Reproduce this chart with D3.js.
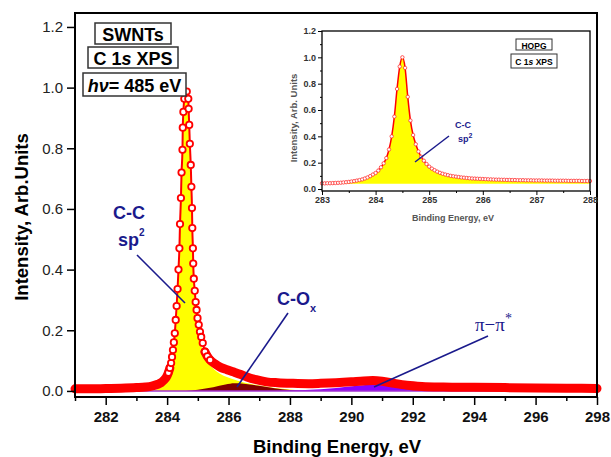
<!DOCTYPE html>
<html>
<head>
<meta charset="utf-8">
<script src="https://cdn.jsdelivr.net/npm/d3@7"></script>
<style>
body { margin: 0; background: #fff; }
text { font-family: Arial, "Liberation Sans", sans-serif; }
</style>
</head>
<body>
<script>
// ---- main spectrum (SWNTs, C 1s), measured points
var measE = [281.0, 281.5, 282.0, 282.5, 283.0, 283.3, 283.5, 283.7, 283.8, 283.9, 283.98,
             284.04, 284.09, 284.13, 284.16, 284.19, 284.22, 284.25, 284.28, 284.31, 284.34,
             284.37, 284.40, 284.42, 284.45, 284.47, 284.50, 284.51, 284.53, 284.56, 284.64,
             284.69, 284.70, 284.72, 284.74, 284.77, 284.79, 284.81, 284.82, 284.84, 284.85,
             284.87, 284.90, 284.93, 284.96, 284.99, 285.03, 285.07, 285.11, 285.16, 285.23,
             285.31, 285.40, 285.55, 285.72, 285.95, 286.15, 286.4, 286.6, 286.9, 287.24,
             287.6, 288.1, 288.6, 289.0, 289.5, 290.0, 290.4, 290.7, 291.0, 291.4,
             291.8, 292.3, 293.0, 294.0, 295.0, 296.0, 297.0, 298.0];
var measI = [0.007, 0.007, 0.008, 0.009, 0.011, 0.013, 0.016, 0.022, 0.027, 0.036, 0.046,
             0.060, 0.076, 0.092, 0.112, 0.135, 0.160, 0.190, 0.234, 0.280, 0.336,
             0.400, 0.470, 0.550, 0.636, 0.720, 0.795, 0.868, 0.920, 0.963, 0.987,
             0.963, 0.930, 0.877, 0.815, 0.745, 0.673, 0.603, 0.537, 0.470, 0.420,
             0.370, 0.330, 0.293, 0.267, 0.240, 0.218, 0.195, 0.178, 0.158, 0.129,
             0.114, 0.102, 0.090, 0.079, 0.070, 0.063, 0.054, 0.046, 0.037, 0.030,
             0.027, 0.025, 0.024, 0.025, 0.027, 0.030, 0.033, 0.034, 0.032, 0.025,
             0.019, 0.015, 0.013, 0.012, 0.011, 0.010, 0.009, 0.008];

// fitted components
var ccE = [283.5, 283.8, 283.95, 284.05, 284.13, 284.19, 284.25, 284.3, 284.35, 284.4, 284.44,
           284.48, 284.52, 284.56, 284.62, 284.68, 284.72, 284.76, 284.8, 284.84, 284.88,
           284.93, 284.99, 285.06, 285.15, 285.3, 285.5, 285.75, 286.1, 286.5, 287.0,
           287.5, 288.0, 288.5];
var ccI = [0.0, 0.012, 0.028, 0.045, 0.075, 0.115, 0.17, 0.25, 0.33, 0.45, 0.6,
           0.78, 0.9, 0.955, 0.975, 0.95, 0.86, 0.76, 0.63, 0.46, 0.36,
           0.28, 0.22, 0.175, 0.135, 0.1, 0.074, 0.055, 0.04, 0.028, 0.018,
           0.01, 0.005, 0.0];
var coxE = [284.6, 285.0, 285.5, 285.9, 286.2, 286.5, 287.0, 287.5, 288.0, 288.5];
var coxI = [0, 0.004, 0.012, 0.021, 0.025, 0.024, 0.017, 0.009, 0.003, 0];
var piE = [287.5, 288.5, 289.5, 290.2, 290.7, 291.2, 291.8, 292.5, 293.5, 295.0];
var piI = [0, 0.003, 0.010, 0.017, 0.020, 0.017, 0.010, 0.004, 0.001, 0];

var xTicks = [282, 284, 286, 288, 290, 292, 294, 296, 298];
var xMinor = [281, 283, 285, 287, 289, 291, 293, 295, 297];
var yTicks = [0.0, 0.2, 0.4, 0.6, 0.8, 1.0, 1.2];

// ---- inset (HOPG), one value every 0.05 eV from 283 to 288
var insetStart = 283, insetStep = 0.05;
var insetI = [0.043, 0.043, 0.044, 0.044, 0.045, 0.046, 0.047, 0.048, 0.050, 0.052,
              0.054, 0.057, 0.060, 0.064, 0.068, 0.073, 0.080, 0.088, 0.098, 0.110,
              0.122, 0.140, 0.165, 0.195, 0.235, 0.300, 0.400, 0.550, 0.760, 0.930,
              1.000, 0.920, 0.700, 0.520, 0.410, 0.340, 0.285, 0.245, 0.215, 0.190,
              0.170, 0.155, 0.143, 0.132, 0.123, 0.116, 0.110, 0.105, 0.100, 0.097,
              0.094, 0.091, 0.088, 0.086, 0.084, 0.082, 0.080, 0.079, 0.078, 0.077,
              0.076, 0.075, 0.074, 0.073, 0.072, 0.071, 0.071, 0.070, 0.070, 0.069,
              0.069, 0.068, 0.068, 0.067, 0.067, 0.067, 0.066, 0.066, 0.066, 0.065,
              0.065, 0.065, 0.065, 0.064, 0.064, 0.064, 0.064, 0.063, 0.063, 0.063,
              0.063, 0.063, 0.062, 0.062, 0.062, 0.062, 0.062, 0.061, 0.061, 0.061,
              0.061];
var insetBase = 0.04;
var insetXTicks = [283, 284, 285, 286, 287, 288];
var insetXMinor = [283.5, 284.5, 285.5, 286.5, 287.5];
var insetYTicks = [0.0, 0.2, 0.4, 0.6, 0.8, 1.0, 1.2];
var insetYMinor = [0.1, 0.3, 0.5, 0.7, 0.9, 1.1];

var width = 611, height = 457;
var navy = "#1a1a8c";

var svg = d3.select("body").append("svg")
    .attr("width", width)
    .attr("height", height);

var x = d3.scaleLinear().domain([281, 298]).range([75, 597]);
var y = d3.scaleLinear().domain([-0.02, 1.246]).range([397, 13]);

var meas = measE.map(function(e, i) { return {e: e, v: measI[i]}; });
function pts(E, I) { return E.map(function(e, i) { return {e: e, v: I[i]}; }); }

var area = d3.area().curve(d3.curveMonotoneX)
    .x(function(d) { return x(d.e); })
    .y0(y(0))
    .y1(function(d) { return y(d.v); });

// components
svg.append("path").datum(pts(ccE, ccI)).attr("d", area).style("fill", "#ffff00");
svg.append("path").datum(pts(coxE, coxI)).attr("d", area).style("fill", "#800000");
svg.append("path").datum(pts(piE, piI)).attr("d", area).style("fill", "#8a00ff");
svg.append("line")
    .attr("x1", x(281)).attr("x2", x(298))
    .attr("y1", y(0)).attr("y2", y(0))
    .style("stroke", "#a030d0").style("stroke-width", 1.5);

// measured data: thick band where points pile up, open circles on the peak
var line = d3.line().curve(d3.curveMonotoneX)
    .x(function(d) { return x(d.e); })
    .y(function(d) { return y(d.v); });

[meas.filter(function(d) { return d.e <= 284.09; }),
 meas.filter(function(d) { return d.e >= 285.23; })].forEach(function(seg) {
    svg.append("path").datum(seg).attr("d", line)
        .style("fill", "none").style("stroke", "#ff0000")
        .style("stroke-width", 9).style("stroke-linecap", "round");
});

svg.append("path").datum(meas).attr("d", line)
    .style("fill", "none").style("stroke", "#ff0000").style("stroke-width", 2);

svg.selectAll(".pt")
    .data(meas.filter(function(d) { return d.e >= 284.04 && d.e <= 285.4; }))
    .enter().append("circle")
    .attr("class", "pt")
    .attr("cx", function(d) { return x(d.e); })
    .attr("cy", function(d) { return y(d.v); })
    .attr("r", 3.2)
    .style("fill", "#fff").style("stroke", "#ff0000").style("stroke-width", 1.8);

// axes
var gx = svg.append("g").attr("transform", "translate(0,397)")
    .call(d3.axisBottom(x).tickValues(xTicks).tickSize(8).tickPadding(6).tickFormat(d3.format("d")));
svg.append("g").attr("transform", "translate(0,397)")
    .call(d3.axisBottom(x).tickValues(xMinor).tickSize(4).tickFormat(""));
var gy = svg.append("g").attr("transform", "translate(75,0)")
    .call(d3.axisLeft(y).tickValues(yTicks).tickSize(8).tickPadding(4).tickFormat(d3.format(".1f")));
svg.selectAll(".domain").remove();
svg.selectAll(".tick line").style("stroke", "#000").style("stroke-width", 1.5);
gx.selectAll("text").style("font-size", "15px").style("font-weight", "bold").style("fill", "#111");
gy.selectAll("text").style("font-size", "15px").style("fill", "#222");

svg.append("rect")
    .attr("x", 75).attr("y", 13).attr("width", 522).attr("height", 384)
    .style("fill", "none").style("stroke", "#000").style("stroke-width", 2);

svg.append("text").attr("x", 337).attr("y", 446)
    .attr("text-anchor", "middle").attr("dominant-baseline", "central")
    .style("font-size", "18.5px").style("font-weight", "bold")
    .text("Binding Energy, eV");
svg.append("text").attr("transform", "translate(21,217) rotate(-90)")
    .attr("text-anchor", "middle").attr("dominant-baseline", "central")
    .style("font-size", "18.5px").style("font-weight", "bold")
    .text("Intensity, Arb.Units");

// boxed labels
function boxLabel(x0, y0, w, h, size, parts) {
    svg.append("rect").attr("x", x0).attr("y", y0).attr("width", w).attr("height", h)
        .style("fill", "#fff").style("stroke", "#333").style("stroke-width", size > 12 ? 1.5 : 1);
    var t = svg.append("text").attr("x", x0 + w / 2).attr("y", y0 + h / 2 + 1)
        .attr("text-anchor", "middle").attr("dominant-baseline", "central")
        .style("font-size", size + "px").style("font-weight", "bold");
    parts.forEach(function(p) {
        t.append("tspan").style("font-style", p[1] ? "italic" : "normal").text(p[0]);
    });
}
boxLabel(95, 23, 76, 21, 18, [["SWNTs"]]);
boxLabel(88, 47, 90, 21, 18, [["C 1"], ["s", 1], [" XPS"]]);
boxLabel(83, 73, 103, 23, 18, [["h\u03bd", 1], ["= 485 eV"]]);

// annotations
function pointer(x1, y1, x2, y2, w) {
    svg.append("line").attr("x1", x1).attr("y1", y1).attr("x2", x2).attr("y2", y2)
        .style("stroke", navy).style("stroke-width", w);
}
svg.append("text").attr("x", 129).attr("y", 213).attr("text-anchor", "middle")
    .attr("dominant-baseline", "central")
    .style("font-size", "18px").style("font-weight", "bold").style("fill", navy).text("C-C");
var sp = svg.append("text").attr("x", 118).attr("y", 240).attr("dominant-baseline", "central")
    .style("font-size", "18px").style("font-weight", "bold").style("fill", navy);
sp.append("tspan").text("sp");
sp.append("tspan").attr("dy", -8).style("font-size", "10px").text("2");
pointer(137, 255, 185, 303, 1.6);

var cox = svg.append("text").attr("x", 277).attr("y", 299).attr("dominant-baseline", "central")
    .style("font-size", "18px").style("font-weight", "bold").style("fill", navy);
cox.append("tspan").text("C-O");
cox.append("tspan").attr("dy", 9).style("font-size", "11px").text("x");
pointer(288, 313, 237, 387, 1.6);

var pp = svg.append("text").attr("x", 475).attr("y", 324).attr("dominant-baseline", "central")
    .style("font-family", "'Liberation Serif', 'Times New Roman', serif").style("font-size", "19px").style("fill", navy);
pp.append("tspan").text("\u03c0\u2212\u03c0");
pp.append("tspan").attr("dy", -6).style("font-size", "14px").text("*");
pointer(488, 336, 374, 387, 1.6);

// ---- inset
var xi = d3.scaleLinear().domain([283, 288]).range([322, 590]);
var yi = d3.scaleLinear().domain([-0.015, 1.2]).range([191, 31]);
var inset = insetI.map(function(v, i) { return {e: insetStart + i * insetStep, v: v}; });

svg.append("path").datum(inset)
    .attr("d", d3.area().curve(d3.curveMonotoneX)
        .x(function(d) { return xi(d.e); })
        .y0(yi(insetBase))
        .y1(function(d) { return yi(d.v); }))
    .style("fill", "#ffff00");
svg.append("path").datum(inset)
    .attr("d", d3.line().curve(d3.curveMonotoneX)
        .x(function(d) { return xi(d.e); })
        .y(function(d) { return yi(d.v); }))
    .style("fill", "none").style("stroke", "#ff0000").style("stroke-width", 1.5);
svg.selectAll(".ipt").data(inset).enter().append("circle")
    .attr("class", "ipt")
    .attr("cx", function(d) { return xi(d.e); })
    .attr("cy", function(d) { return yi(d.v); })
    .attr("r", 1.7)
    .style("fill", "#fff").style("stroke", "#ff3030").style("stroke-width", 0.8);

var ix = svg.append("g").attr("transform", "translate(0,191)")
    .call(d3.axisBottom(xi).tickValues(insetXTicks).tickSize(4).tickPadding(2).tickFormat(d3.format("d")));
var ixm = svg.append("g").attr("transform", "translate(0,191)")
    .call(d3.axisBottom(xi).tickValues(insetXMinor).tickSize(2).tickFormat(""));
var iy = svg.append("g").attr("transform", "translate(322,0)")
    .call(d3.axisLeft(yi).tickValues(insetYTicks).tickSize(4).tickPadding(2).tickFormat(d3.format(".1f")));
var iym = svg.append("g").attr("transform", "translate(322,0)")
    .call(d3.axisLeft(yi).tickValues(insetYMinor).tickSize(2).tickFormat(""));
[ix, ixm, iy, iym].forEach(function(g) {
    g.select(".domain").remove();
    g.selectAll(".tick line").style("stroke", "#000").style("stroke-width", 1);
    g.selectAll("text").style("font-size", "9px").style("font-weight", "bold").style("fill", "#333");
});
svg.append("rect")
    .attr("x", 322).attr("y", 31).attr("width", 268).attr("height", 160)
    .style("fill", "none").style("stroke", "#000").style("stroke-width", 1.3);

svg.append("text").attr("x", 453).attr("y", 218)
    .attr("text-anchor", "middle").attr("dominant-baseline", "central")
    .style("font-size", "9px").style("font-weight", "bold").style("fill", "#555")
    .text("Binding Energy, eV");
svg.append("text").attr("transform", "translate(293,118) rotate(-90)")
    .attr("text-anchor", "middle").attr("dominant-baseline", "central")
    .style("font-size", "9.5px").style("font-weight", "bold").style("fill", "#555")
    .text("Intensity, Arb. Units");

boxLabel(516, 39, 36, 11, 8.5, [["HOPG"]]);
boxLabel(511, 54, 46, 14, 8.5, [["C 1"], ["s", 1], [" XPS"]]);

svg.append("text").attr("x", 463).attr("y", 125).attr("text-anchor", "middle")
    .attr("dominant-baseline", "central")
    .style("font-size", "9px").style("font-weight", "bold").style("fill", navy).text("C-C");
var isp = svg.append("text").attr("x", 458).attr("y", 139).attr("dominant-baseline", "central")
    .style("font-size", "9px").style("font-weight", "bold").style("fill", navy);
isp.append("tspan").text("sp");
isp.append("tspan").attr("dy", -4).style("font-size", "7px").text("2");
pointer(449, 136, 415, 162, 1.5);
</script>
</body>
</html>
